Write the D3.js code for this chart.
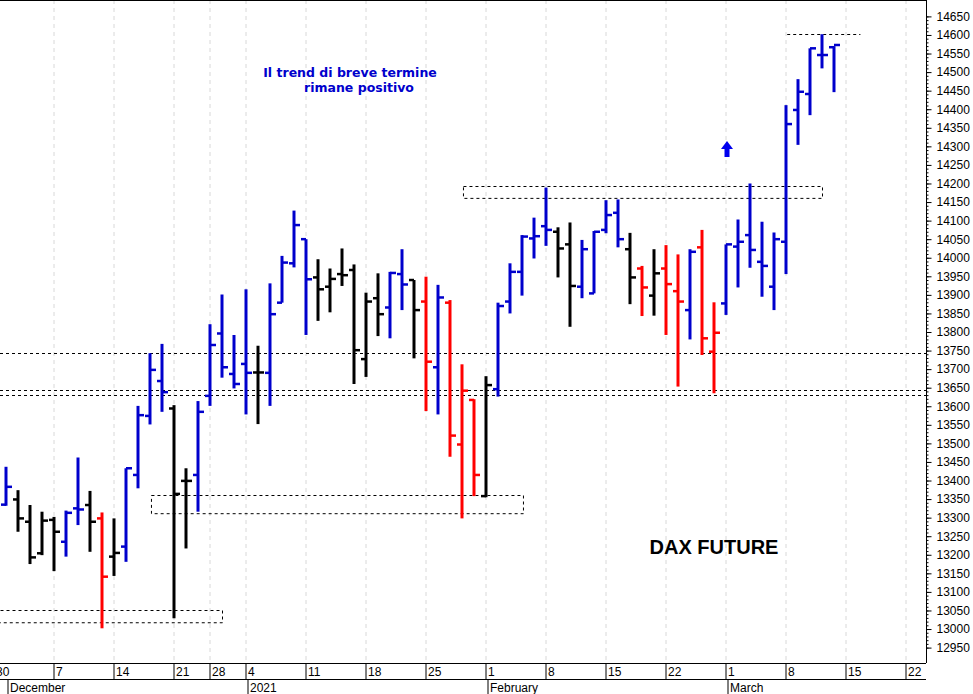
<!DOCTYPE html>
<html><head><meta charset="utf-8">
<script src="https://cdn.jsdelivr.net/npm/d3@7"></script>
<style>body{margin:0;background:#fff}svg{display:block}</style>
</head><body><svg id="c" width="973" height="694"></svg>
<script>
// trading days Nov 30 2020 .. Mar 12 2021 (index 0 = Nov 30)
const dates = ["11-30","12-01","12-02","12-03","12-04","12-07","12-08","12-09","12-10","12-11","12-14","12-15","12-16","12-17","12-18","12-21","12-22","12-23","12-28","12-29","12-30",
"01-04","01-05","01-06","01-07","01-08","01-11","01-12","01-13","01-14","01-15","01-18","01-19","01-20","01-21","01-22","01-25","01-26","01-27","01-28","01-29",
"02-01","02-02","02-03","02-04","02-05","02-08","02-09","02-10","02-11","02-12","02-15","02-16","02-17","02-18","02-19","02-22","02-23","02-24","02-25","02-26",
"03-01","03-02","03-03","03-04","03-05","03-08","03-09","03-10","03-11","03-12"];
const opens  = [13350,13335,13349,13289,13204,13294,13235,13325,13334,13298,13195,13222,13415,13574,13668,13594,13399,13415,13628,13796,13687,
13714,13691,13690,13879,13985,14050,13947,13922,13956,13967,13727,13891,13866,13956,13940,13882,13705,13879,13497,13617,
13358,13646,13882,13962,14052,14085,14070,14036,13922,13904,14075,14121,14023,13971,13898,13971,13910,13859,14028,13747,
13877,14030,14061,13989,13922,14043,14398,14441,14546,14567];
const highs  = [13420,13437,13374,13334,13316,13302,13319,13462,13372,13314,13298,13433,13601,13743,13768,13603,13433,13614,13821,13901,13792,
13915,13763,13931,14005,14127,14050,13996,13971,14025,13982,13906,13958,13962,14023,13940,13949,13927,13886,13713,13619,
13681,13879,13985,14061,14108,14189,14082,14095,14048,14072,14155,14157,14067,13978,14023,14034,14009,14023,14075,13880,
14036,14103,14200,14097,14068,14411,14481,14564,14602,14570];
const lows   = [13270,13332,13262,13175,13199,13156,13195,13280,13208,13002,13143,13181,13379,13551,13585,13029,13217,13316,13601,13677,13648,
13578,13552,13601,13879,13974,13792,13830,13853,13924,13660,13679,13789,13783,13859,13729,13587,13578,13464,13298,13358,
13355,13626,13850,13898,13998,14032,13947,13814,13891,13904,14066,14028,13875,13843,13844,13792,13653,13780,13738,13635,
13846,13920,13973,13895,13859,13956,14304,14384,14510,14446];
const closes = [13300,13383,13298,13193,13292,13262,13313,13322,13289,13141,13205,13433,13576,13698,13638,13364,13399,13585,13765,13705,13660,
13690,13691,13848,13987,14088,13942,13915,13943,13953,13751,13882,13848,13959,13928,13859,13720,13893,13521,13642,13415,
13657,13870,13962,14057,14058,14075,14025,13924,14023,14070,14115,14050,13947,13920,13958,13929,13882,14016,13783,13798,
14036,14043,14021,13978,14050,14360,14447,14564,14546,14573];
// trend colour code: B blue, K black, R red
const trend = "KBKKK"+"KBBKR"+"KBBBB"+"KKB"+"BBB"+"BKBBB"+"BKKKK"+"KKBBK"+"RBRRR"+"KBBBB"+"BKKBB"+"BBKRK"+"RRBRR"+"BBBBB"+"BBBBB";
const weekIdx = [0,5,10,15,18,21,26,31,36,41,46,51,56,61,66,71,76];
const weekLbl = ["30","7","14","21","28","4","11","18","25","1","8","15","22","1","8","15","22"];
const monthIdx = [1,21,41,61];
const monthLbl = ["December","2021","February","March"];
const hLines = [13743,13645,13629];
const boxes = [[39.08,69.0,14193,14161],[13.08,44.08,13361,13312],[-1,19,13051,13018]];
const topLine = [66.1,72.2,14602];

const svg = d3.select("#c");
const W=926, B=663;
const x = d3.scaleLinear().domain([0,(W+6)/12]).range([-6,W]);
const y = d3.scaleLinear().domain([12950,14650]).range([647.6,16.4]);
const col = {B:"#0000cc",K:"#000000",R:"#ff0000"};
const g = svg.append("g");
g.append("defs").append("clipPath").attr("id","cp").append("rect").attr("width",W).attr("height",B);
const p = g.append("g").attr("clip-path","url(#cp)");
weekIdx.forEach(i=>p.append("line").attr("x1",x(i)).attr("x2",x(i)).attr("y1",0).attr("y2",B)
  .attr("stroke","#d8d8d8").attr("stroke-dasharray","4,4"));
hLines.forEach(v=>p.append("line").attr("x1",0).attr("x2",W).attr("y1",Math.round(y(v))+.5).attr("y2",Math.round(y(v))+.5)
  .attr("stroke","#000").attr("stroke-dasharray","3,3"));
boxes.forEach(b=>p.append("rect").attr("x",x(b[0])+.5).attr("y",Math.round(y(b[2]))+.5)
  .attr("width",x(b[1])-x(b[0])).attr("height",y(b[3])-y(b[2]))
  .attr("fill","none").attr("stroke","#000").attr("stroke-dasharray","3,3"));
p.append("line").attr("x1",x(topLine[0])).attr("x2",x(topLine[1])).attr("y1",Math.round(y(topLine[2]))+.5).attr("y2",Math.round(y(topLine[2]))+.5)
  .attr("stroke","#000").attr("stroke-dasharray","3,3");
dates.forEach((d,i)=>{
  const c=col[trend[i]], cx=x(i);
  p.append("line").attr("x1",cx).attr("x2",cx).attr("y1",y(highs[i])).attr("y2",y(lows[i])).attr("stroke",c).attr("stroke-width",3);
  p.append("line").attr("x1",cx-5).attr("x2",cx).attr("y1",y(opens[i])).attr("y2",y(opens[i])).attr("stroke",c).attr("stroke-width",2.5);
  p.append("line").attr("x1",cx).attr("x2",cx+6).attr("y1",y(closes[i])).attr("y2",y(closes[i])).attr("stroke",c).attr("stroke-width",2.5);
});
g.append("line").attr("x1",0).attr("x2",W).attr("y1",0.5).attr("y2",0.5).attr("stroke","#000");
g.append("line").attr("x1",W+.5).attr("x2",W+.5).attr("y1",0).attr("y2",B).attr("stroke","#000");
g.append("line").attr("x1",0).attr("x2",W).attr("y1",B+.5).attr("y2",B+.5).attr("stroke","#000");
g.append("line").attr("x1",0).attr("x2",W).attr("y1",679.5).attr("y2",679.5).attr("stroke","#000");
const ya = d3.axisRight(y).tickValues(d3.range(12950,14651,50)).tickSize(5).tickFormat(d3.format("d"));
const ax = g.append("g").attr("transform",`translate(${W+.5},0)`).call(ya);
ax.select(".domain").remove();
ax.selectAll("text").attr("font-family","Liberation Sans, Arial").attr("font-size",12).attr("x",10);
g.append("g").attr("transform",`translate(${W+.5},0)`).call(d3.axisRight(y).tickValues(d3.range(12950,14651,10)).tickSize(2).tickFormat(""))
  .select(".domain").remove();
weekIdx.forEach((i,k)=>{
  g.append("line").attr("x1",x(i)).attr("x2",x(i)).attr("y1",B).attr("y2",679).attr("stroke","#000");
  g.append("text").attr("x",x(i)+2).attr("y",676).text(weekLbl[k]).attr("font-family","Liberation Sans, Arial").attr("font-size",12);
});
monthIdx.forEach((i,k)=>{
  g.append("line").attr("x1",x(i)+2).attr("x2",x(i)+2).attr("y1",679).attr("y2",694).attr("stroke","#000");
  g.append("text").attr("x",x(i)+4).attr("y",692).text(monthLbl[k]).attr("font-family","Liberation Sans, Arial").attr("font-size",12);
});
g.append("text").attr("x",350).attr("y",77).attr("text-anchor","middle").attr("fill","#0000cc").attr("font-weight","bold")
  .attr("font-family","DejaVu Sans, Liberation Sans").attr("font-size",12.5).text("Il trend di breve termine");
g.append("text").attr("x",359).attr("y",92).attr("text-anchor","middle").attr("fill","#0000cc").attr("font-weight","bold")
  .attr("font-family","DejaVu Sans, Liberation Sans").attr("font-size",12.5).text("rimane positivo");
g.append("text").attr("x",714).attr("y",554).attr("text-anchor","middle").attr("fill","#000").attr("font-weight","bold")
  .attr("font-family","Liberation Sans, Arial").attr("font-size",20).text("DAX FUTURE");
g.append("path").attr("d","M727,141 L733,149 L729.5,149 L729.5,157 L724.5,157 L724.5,149 L721,149 Z").attr("fill","#0000ee");
</script></body></html>
